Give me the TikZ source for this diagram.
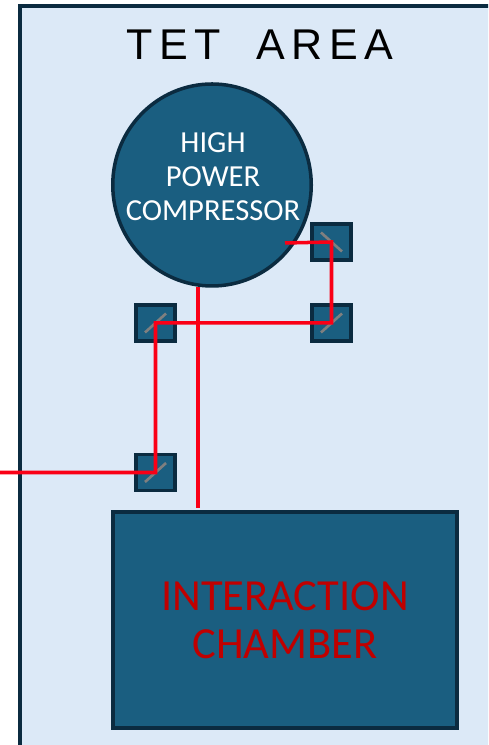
\documentclass[tikz,border=0pt]{standalone}
\usepackage{fontspec}
\setmainfont{Carlito}
\newfontfamily\titlefont[LetterSpace=15]{Liberation Sans}
\usetikzlibrary{shapes.geometric}
\definecolor{areafill}{HTML}{DCE9F7}
\definecolor{unitfill}{HTML}{1A5E80}
\definecolor{unitedge}{HTML}{0B2B40}
\definecolor{beamred}{HTML}{FA0016}
\definecolor{labelred}{HTML}{C00000}
\definecolor{mirrorgray}{HTML}{7F7F7F}
\tikzset{
   unit/.style={draw=unitedge,line width=2pt,fill=unitfill},
   mirror/.style={unit,minimum width=0.78cm,minimum height=0.72cm,inner sep=0pt,outer sep=0pt},
   slash/.style={mirrorgray,line width=1.5pt},
   beam/.style={beamred,line width=2pt}
}
\begin{document}
\begin{tikzpicture}
   \clip (0,0) rectangle (9.76,14.9);
   \fill[white] (0,0) rectangle (9.76,14.9);
   \draw[unit,fill=areafill] (0.4,-1) rectangle (11,14.78);
   \node (title) at (5.2,14.01) {\titlefont\fontsize{24.5}{24.5}\selectfont TET\hspace{0.4em} AREA};

   \node[unit,ellipse,minimum width=3.97cm,minimum height=4.04cm,inner sep=0pt,outer sep=0pt] (compressor) at (4.24,11.2) {};
   \node[text=white,align=center,font=\fontsize{17.4}{19.3}\selectfont] (compressortext) at (4.26,11.36) {HIGH\\POWER\\COMPRESSOR};
   \node[unit,minimum width=6.88cm,minimum height=4.32cm,inner sep=0pt,outer sep=0pt,text=labelred,align=center,
      font=\fontsize{25.3}{27.2}\selectfont] (chamber) at (5.7,2.5) {INTERACTION\\CHAMBER};

   \node[mirror] (m1) at (6.63,10.06) {};
   \node[mirror] (m2) at (6.63,8.44) {};
   \node[mirror] (m3) at (3.11,8.44) {};
   \node[mirror] (m4) at (3.11,5.45) {};

   \draw[slash] (m1.center) ++(-0.21,0.19) -- ++(0.42,-0.38);
   \foreach \m in {m2,m3,m4}
      \draw[slash] (\m.center) ++(-0.21,-0.19) -- ++(0.42,0.38);

   \coordinate (start) at (5.7,10.04);
   \coordinate (out) at (0,5.45);
   \coordinate (top) at (3.96,9.16);
   \coordinate (bottom) at (3.96,4.74);
   \draw[beam] (start) -- (m1.center) -- (m2.center) -- (m3.center) -- (m4.center) -- (out);
   \draw[beam] (top) -- (bottom);
\end{tikzpicture}
\end{document}
